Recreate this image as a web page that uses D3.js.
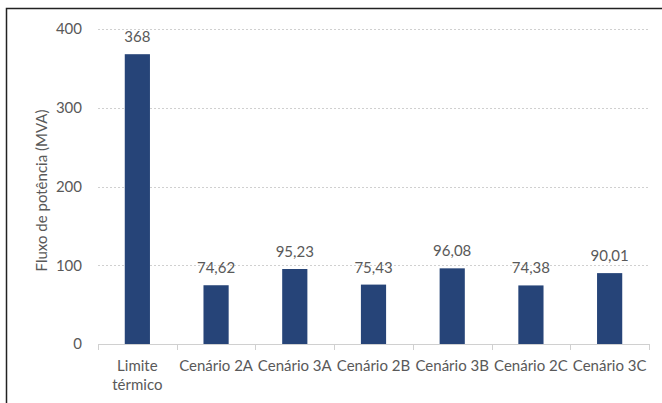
<!DOCTYPE html>
<html>
<head>
<meta charset="utf-8">
<script src="https://cdn.jsdelivr.net/npm/d3@7"></script>
<style>
  html, body { margin: 0; padding: 0; background: #fff; }
  svg { display: block; }
  text { font-family: Lato, "Open Sans", sans-serif; fill: #595959; }
</style>
</head>
<body>
<svg id="chart" width="662" height="403"></svg>
<script>
// Power flow per scenario (MVA)
const categories = ["Limite\ntérmico", "Cenário 2A", "Cenário 3A", "Cenário 2B", "Cenário 3B", "Cenário 2C", "Cenário 3C"];
const values = [368, 74.62, 95.23, 75.43, 96.08, 74.38, 90.01];
const valueLabels = ["368", "74,62", "95,23", "75,43", "96,08", "74,38", "90,01"];
const yTicks = [0, 100, 200, 300, 400];
const yTitle = "Fluxo de potência (MVA)";

const svg = d3.select("#chart");
const W = 662, H = 403;
const plot = { left: 98, right: 649, top: 29, bottom: 344 };
const FS = 15;

// frame: left and top edges
svg.append("path")
  .attr("d", `M6.5,${H} L6.5,8.5 L${W},8.5`)
  .attr("fill", "none").attr("stroke", "#222").attr("stroke-width", 1.5);

const x = d3.scaleBand().domain(categories).range([plot.left, plot.right]).paddingInner(0).paddingOuter(0);
const y = d3.scaleLinear().domain([0, 400]).range([plot.bottom, plot.top]);

// dotted gridlines
svg.append("g").selectAll("line").data(yTicks.filter(d => d > 0)).join("line")
  .attr("x1", plot.left).attr("x2", plot.right)
  .attr("y1", d => Math.round(y(d)) + 0.5).attr("y2", d => Math.round(y(d)) + 0.5)
  .attr("stroke", "#d0d0d0").attr("stroke-dasharray", "2,2");

// y tick labels
svg.append("g").selectAll("text").data(yTicks).join("text")
  .attr("x", 82).attr("y", d => y(d)).attr("dy", "0.35em")
  .attr("text-anchor", "end").attr("font-size", FS)
  .text(d => d);

// y axis title
svg.append("text")
  .attr("transform", `translate(47,${(plot.top + plot.bottom) / 2 + 4}) rotate(-90)`)
  .attr("text-anchor", "middle").attr("font-size", FS)
  .text(yTitle);

// bars
const barW = x.bandwidth() * 0.32;
svg.append("g").selectAll("rect").data(values).join("rect")
  .attr("x", (d, i) => x(categories[i]) + (x.bandwidth() - barW) / 2)
  .attr("y", d => y(d))
  .attr("width", barW)
  .attr("height", d => y(0) - y(d))
  .attr("fill", "#264478");

// value labels
svg.append("g").selectAll("text").data(values).join("text")
  .attr("x", (d, i) => x(categories[i]) + x.bandwidth() / 2)
  .attr("y", d => y(d) - 12)
  .attr("text-anchor", "middle").attr("font-size", FS)
  .text((d, i) => valueLabels[i]);

// x axis line and tick marks
const ax = svg.append("g").attr("stroke", "#d0d0d0").attr("stroke-width", 1);
ax.append("line").attr("x1", plot.left).attr("x2", plot.right)
  .attr("y1", plot.bottom + 0.5).attr("y2", plot.bottom + 0.5);
const bounds = categories.map(c => x(c)).concat([plot.right]);
ax.selectAll(".tk").data(bounds).join("line")
  .attr("x1", d => Math.round(d) + 0.5).attr("x2", d => Math.round(d) + 0.5)
  .attr("y1", plot.bottom).attr("y2", plot.bottom + 6);

// category labels
const cl = svg.append("g").selectAll("text").data(categories).join("text")
  .attr("x", d => x(d) + x.bandwidth() / 2)
  .attr("y", 371)
  .attr("text-anchor", "middle").attr("font-size", FS);
cl.each(function(d) {
  const lines = d.split("\n");
  d3.select(this).selectAll("tspan").data(lines).join("tspan")
    .attr("x", x(d) + x.bandwidth() / 2)
    .attr("dy", (l, i) => i === 0 ? 0 : 19)
    .text(l => l);
});
</script>
</body>
</html>
